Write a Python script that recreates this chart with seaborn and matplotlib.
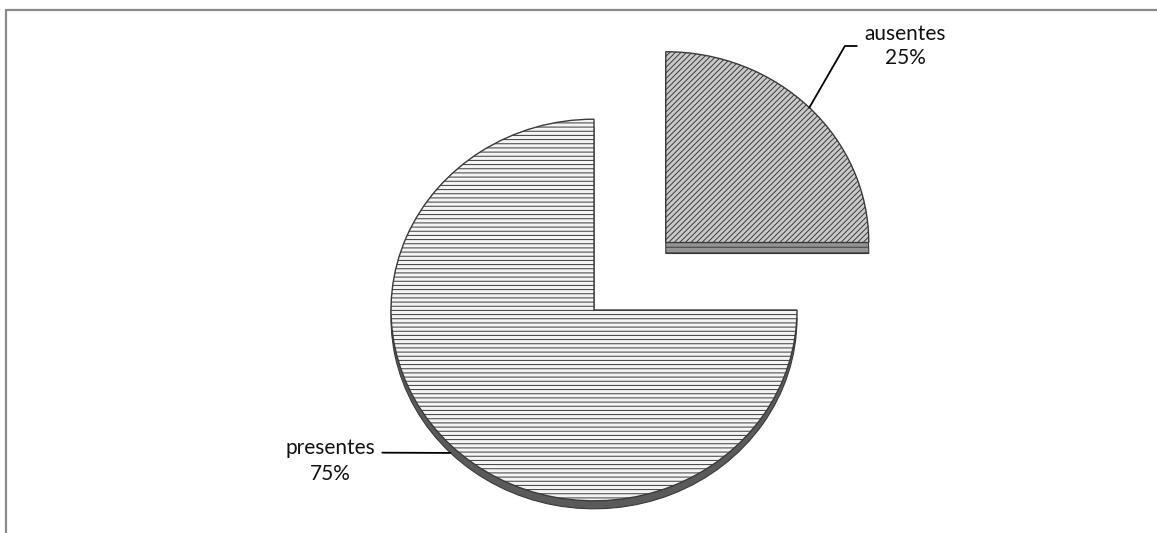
import numpy as np
import matplotlib
matplotlib.use("Agg")
import matplotlib.pyplot as plt
import seaborn as sns
from matplotlib.patches import Rectangle

# ---- data ----
categories = ["ausentes", "presentes"]
values = [25, 75]
pct_labels = ["25%", "75%"]

sns.set_theme(style="white")
plt.rcParams["font.family"] = ["Lato", "DejaVu Sans"]
plt.rcParams["hatch.linewidth"] = 0.7

W, H = 1157, 533
fig = plt.figure(figsize=(W / 100, H / 100), dpi=100)
ax = fig.add_axes([0, 0, 1, 1])

s = 0.94          # vertical squash of the tilted pie
R = 203
cx, cy = 594, (H - 310) / s
explode = [0.5 * R, 0]          # pie() takes explode in data units
depths = [11 / s, 8 / s]        # visible side thickness per slice

side_cols = ["#949494", "#5a5a5a"]
side_hatch = ["---", ""]
top_cols = ["#c9c9c9", "#f4f4f4"]
hatch_cols = ["#7a7a7a", "#a0a0a0"]
hatches = ["//////", "----"]

# side (extrusion) of each slice
for i, d in enumerate(depths):
    side, _ = ax.pie(values, explode=explode, startangle=90, counterclock=False,
                     radius=R, center=(cx, cy - d), colors=side_cols,
                     wedgeprops=dict(edgecolor="#3a3a3a", linewidth=0.8), frame=True)
    for j, w in enumerate(side):
        if j != i:
            w.set_visible(False)
        else:
            w.set_hatch(side_hatch[j])
            if hasattr(w, "set_hatchcolor"):
                w.set_hatchcolor("#6a6a6a")
    if i == 1:
        rim = side

top, _ = ax.pie(values, explode=explode, startangle=90, counterclock=False,
                radius=R, center=(cx, cy), colors=top_cols,
                wedgeprops=dict(edgecolor="#3a3a3a", linewidth=1.0), frame=True)
for w, h, hc in zip(top, hatches, hatch_cols):
    w.set_hatch(h)
    if hasattr(w, "set_hatchcolor"):
        w.set_hatchcolor(hc)

ax.set_xlim(0, W)
ax.set_ylim(0, H / s)
ax.set_aspect("auto")
ax.axis("off")

# labels with leader lines (lower slices meet the visible rim)
text_pos = [(905, (H - 46) / s), (330, (H - 461) / s)]
relpos = [(0.0, 0.5), (1.0, 0.68)]
conn = ["angle,angleA=0,angleB=60,rad=0", "arc3,rad=0"]
spacing = [1.25, 1.4]
for k, (w, cat, pct, tp, rp, cs, ls) in enumerate(
        zip(top, categories, pct_labels, text_pos, relpos, conn, spacing)):
    th = np.deg2rad((w.theta1 + w.theta2) / 2)
    ref = w if np.sin(th) >= 0 else rim[k]
    x0, y0 = ref.center
    xy = (x0 + ref.r * np.cos(th), y0 + ref.r * np.sin(th))
    ax.annotate(f"{cat}\n{pct}", xy=xy, xytext=tp, ha="center", va="center",
                fontsize=15, linespacing=ls, color="#111111",
                arrowprops=dict(arrowstyle="-", connectionstyle=cs, relpos=rp,
                                color="black", lw=1.3, shrinkA=3, shrinkB=0))

# chart-area border (top and left only visible)
fig.add_artist(Rectangle((6 / W, -0.2), 1.5, 1.2 - 9.5 / H,
                         transform=fig.transFigure, fill=False,
                         edgecolor="#8a8a8a", linewidth=1.6))

fig.savefig("out.png", dpi=100)
